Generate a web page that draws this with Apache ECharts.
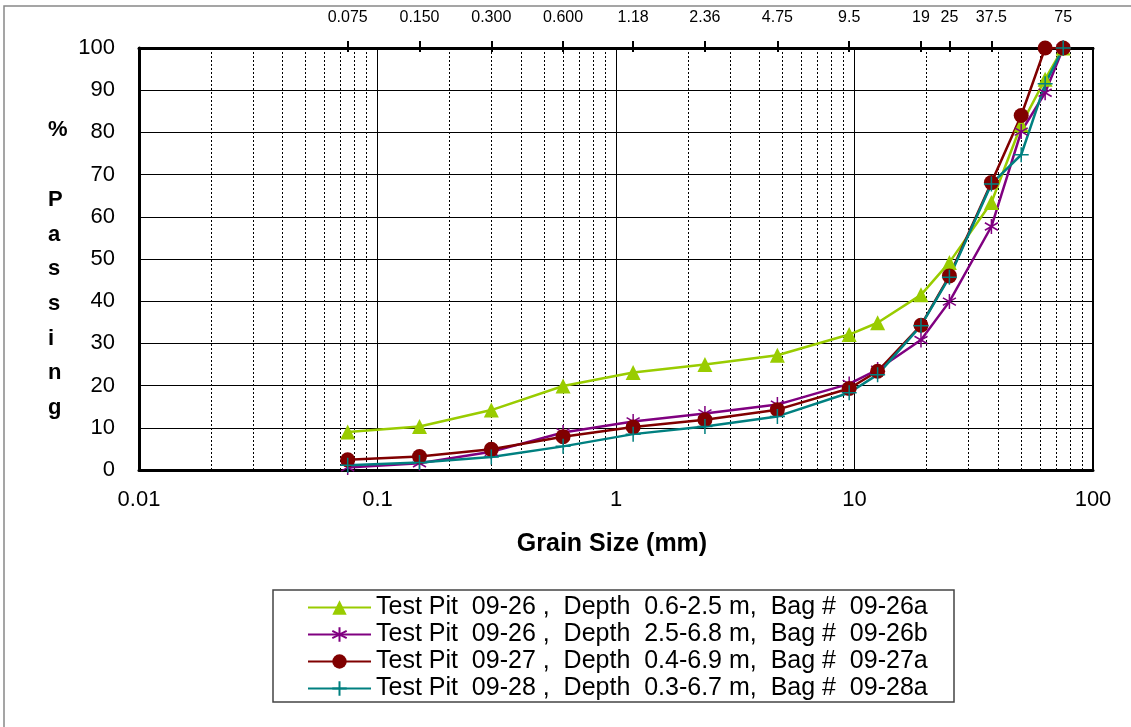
<!DOCTYPE html>
<html>
<head>
<meta charset="utf-8">
<script src="https://cdn.jsdelivr.net/npm/echarts@6/dist/echarts.min.js"></script>
<style>
  html, body { margin: 0; padding: 0; background: #fff; }
  #main { width: 1131px; height: 727px; }
</style>
</head>
<body>
<div id="main"></div>
<script>
// sieve sizes (mm)
var sieves = [0.075, 0.15, 0.3, 0.6, 1.18, 2.36, 4.75, 9.5, 12.5, 19, 25, 37.5, 50, 63, 75];

// top axis labels
var topTicks = [0.075, 0.15, 0.3, 0.6, 1.18, 2.36, 4.75, 9.5, 19, 25, 37.5, 75];
var topLabels = ['0.075', '0.150', '0.300', '0.600', '1.18', '2.36', '4.75', '9.5', '19', '25', '37.5', '75'];

// % passing
var pit26a = [9, 10.3, 14.2, 19.9, 23.1, 25, 27.2, 32.1, 34.9, 41.5, 49.2, 63.4, 81.8, 92.6, 100];
var pit26b = [0.6, 1.6, 4.3, 8.9, 11.5, 13.4, 15.5, 20.4, 23.8, 30.8, 39.9, 57.7, 80.2, 89.4, 100];
var pit27a = [2.4, 3.2, 4.9, 7.9, 10.2, 11.9, 14.3, 19.3, 23.4, 34.3, 46, 68.1, 84, 100, 100];
var pit28a = [1.1, 1.8, 3.1, 5.6, 8.5, 10.3, 12.7, 18.3, 22.6, 34.2, 45.7, 67.8, 74.7, 91.5, 100];

var names = [
  'Test Pit  09-26 ,  Depth  0.6-2.5 m,  Bag #  09-26a',
  'Test Pit  09-26 ,  Depth  2.5-6.8 m,  Bag #  09-26b',
  'Test Pit  09-27 ,  Depth  0.4-6.9 m,  Bag #  09-27a',
  'Test Pit  09-28 ,  Depth  0.3-6.7 m,  Bag #  09-28a'
];

var FONT = 'Liberation Sans, Arial, sans-serif';

function pairs(ys) {
  return sieves.map(function (x, i) { return [x, ys[i]]; });
}

// dashed minor grid lines at 2..9 of every decade
var minorLines = [];
[0.01, 0.1, 1, 10].forEach(function (d) {
  for (var k = 2; k <= 9; k++) minorLines.push({ xAxis: +(d * k).toPrecision(3) });
});

var asterisk = 'path://M0,-10L0,10M-8.7,-5L8.7,5M-8.7,5L8.7,-5';
var plus = 'path://M0,-10L0,10M-10,0L10,0';

var myChart = echarts.init(document.getElementById('main'));
var option = {
  animation: false,
  backgroundColor: '#fff',
  grid: {
    left: 139, right: 38, top: 48, bottom: 257,
    show: true, borderColor: '#000', borderWidth: 2
  },
  legend: {
    orient: 'vertical',
    left: 273, top: 590,
    padding: [4, 18, 0, 34],
    itemWidth: 63, itemHeight: 18, itemGap: 0,
    borderColor: '#444', borderWidth: 1.5,
    textStyle: { fontFamily: FONT, fontSize: 25, color: '#000', lineHeight: 27, width: 560 },
    data: names
  },
  xAxis: [
    {
      type: 'log', logBase: 10, min: 0.01, max: 100,
      position: 'bottom',
      axisLine: { show: true, lineStyle: { color: '#000', width: 3 } },
      axisTick: { show: false },
      axisLabel: {
        fontFamily: FONT, fontSize: 22, color: '#000', margin: 19,
        formatter: function (v) { return String(+v.toPrecision(3)); }
      },
      splitLine: { show: true, lineStyle: { color: '#000', width: 1 } }
    },
    {
      type: 'log', logBase: 10, min: 0.01, max: 100,
      position: 'top',
      axisLine: { show: true, lineStyle: { color: '#000', width: 3 } },
      axisTick: { show: true, customValues: topTicks, length: 7, lineStyle: { color: '#000', width: 2 } },
      axisLabel: {
        show: true, customValues: topTicks,
        fontFamily: FONT, fontSize: 16, color: '#000', margin: 22,
        formatter: function (v) {
          var best = 0;
          for (var i = 0; i < topTicks.length; i++) {
            if (Math.abs(Math.log(topTicks[i] / v)) < Math.abs(Math.log(topTicks[best] / v))) best = i;
          }
          return topLabels[best];
        }
      },
      splitLine: { show: false }
    },
    {
      type: 'log', logBase: 10, min: 0.01, max: 100,
      position: 'top',
      axisLine: { show: false },
      axisTick: { show: true, inside: true, customValues: topTicks, length: 4, lineStyle: { color: '#000', width: 2 } },
      axisLabel: { show: false },
      splitLine: { show: false }
    }
  ],
  yAxis: {
    type: 'value', min: 0, max: 100, interval: 10,
    axisLine: { show: true, lineStyle: { color: '#000', width: 3 } },
    axisTick: { show: false },
    axisLabel: { fontFamily: FONT, fontSize: 22, color: '#000', margin: 24 },
    splitLine: { show: true, lineStyle: { color: '#000', width: 1 } }
  },
  graphic: [
    {
      type: 'rect', silent: true, z: -10,
      shape: { x: 4, y: 6, width: 1160, height: 760 },
      style: { fill: 'none', stroke: '#888', lineWidth: 1.5 }
    },
    {
      type: 'text', left: 48, top: 113,
      style: {
        text: '%\n\nP\na\ns\ns\ni\nn\ng',
        fontFamily: FONT, fontSize: 22, fontWeight: 'bold', fill: '#000',
        lineHeight: 34.7
      }
    },
    {
      type: 'text', x: 612, y: 544,
      style: {
        text: 'Grain Size (mm)',
        fontFamily: FONT, fontSize: 25, fontWeight: 'bold', fill: '#000',
        align: 'center', verticalAlign: 'middle'
      }
    }
  ],
  series: [
    {
      name: names[0], type: 'line', data: pairs(pit26a),
      symbol: 'triangle', symbolSize: 15,
      lineStyle: { color: '#99CC00', width: 2.5 },
      itemStyle: { color: '#99CC00' },
      markLine: {
        silent: true, z: 1, symbol: 'none', animation: false,
        label: { show: false },
        lineStyle: { color: '#000', type: [2, 2], width: 1 },
        emphasis: { disabled: true },
        data: minorLines
      }
    },
    {
      name: names[1], type: 'line', data: pairs(pit26b),
      symbol: asterisk, symbolSize: 15, symbolKeepAspect: true,
      lineStyle: { color: '#800080', width: 2.5 },
      itemStyle: { color: '#800080', borderColor: '#800080', borderWidth: 1.5 }
    },
    {
      name: names[2], type: 'line', data: pairs(pit27a),
      symbol: 'circle', symbolSize: 15,
      lineStyle: { color: '#800000', width: 2.5 },
      itemStyle: { color: '#800000' }
    },
    {
      name: names[3], type: 'line', data: pairs(pit28a),
      symbol: plus, symbolSize: 15, symbolKeepAspect: true,
      lineStyle: { color: '#008080', width: 2.5 },
      itemStyle: { color: '#008080', borderColor: '#008080', borderWidth: 1.5 }
    }
  ]
};

if (option && typeof option === 'object') {
  myChart.setOption(option, true);
}
</script>
</body>
</html>
